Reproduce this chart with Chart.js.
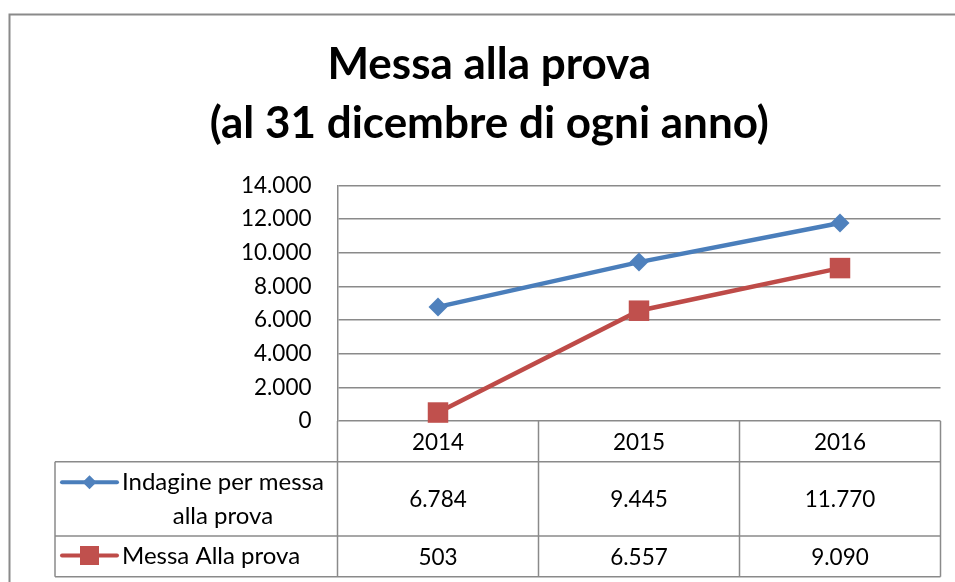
<!DOCTYPE html>
<html>
<head>
<meta charset="utf-8">
<script src="https://cdn.jsdelivr.net/npm/chart.js@4/dist/chart.umd.min.js"></script>
<style>
  html, body { margin: 0; padding: 0; background: #ffffff; }
  canvas { display: block; }
</style>
</head>
<body>
<canvas id="c" width="955" height="582"></canvas>
<script>
// ---- data ----
const categories = ['2014', '2015', '2016'];
const seriesNames = ['Indagine per messa alla prova', 'Messa Alla prova'];
const indagine = [6784, 9445, 11770];
const messa = [503, 6557, 9090];
const titleLines = ['Messa alla prova', '(al 31 dicembre di ogni anno)'];
const yMin = 0, yMax = 14000, yStep = 2000;

// ---- styling ----
const FONT = 'Lato';
const GRID = '#8a8a8a';
const BLUE_LINE = '#4A7EBB', BLUE_PT = '#4F81BD';
const RED_LINE = '#BE4B48', RED_PT = '#C0504D';

function fmt(v) {
  return String(v).replace(/\B(?=(\d{3})+(?!\d))/g, '.');
}

function drawKey(ctx, x1, x2, y, color, ptColor, style) {
  ctx.save();
  ctx.strokeStyle = color;
  ctx.lineWidth = 4;
  ctx.lineCap = 'round';
  ctx.beginPath(); ctx.moveTo(x1, y); ctx.lineTo(x2, y); ctx.stroke();
  ctx.fillStyle = ptColor;
  const cx = (x1 + x2) / 2;
  ctx.beginPath();
  if (style === 'diamond') {
    const r = 7;
    ctx.moveTo(cx - r, y); ctx.lineTo(cx, y - r); ctx.lineTo(cx + r, y); ctx.lineTo(cx, y + r);
    ctx.closePath();
  } else {
    const h = 9.5;
    ctx.rect(cx - h, y - h, 2 * h, 2 * h);
  }
  ctx.fill();
  ctx.restore();
}

const framePlugin = {
  id: 'frameAndTable',
  afterDraw(chart) {
    const ctx = chart.ctx;
    const area = chart.chartArea;
    const xs = chart.scales.x;
    ctx.save();
    // outer chart frame (cropped)
    ctx.strokeStyle = GRID;
    ctx.lineWidth = 2;
    ctx.beginPath();
    ctx.moveTo(9.5, 582); ctx.lineTo(9.5, 14.5); ctx.lineTo(955, 14.5);
    ctx.stroke();

    // data table
    const n = categories.length;
    const colW = (area.right - area.left) / n;
    const top = area.bottom;
    const rowH = [40.7, 74.3, 40.7];
    const y1 = top + rowH[0], y2 = y1 + rowH[1], y3 = y2 + rowH[2];
    const tableLeft = 55;
    ctx.strokeStyle = GRID;
    ctx.lineWidth = 1.5;
    ctx.beginPath();
    for (let i = 0; i <= n; i++) {
      const x = area.left + i * colW;
      ctx.moveTo(x, top); ctx.lineTo(x, y3);
    }
    ctx.moveTo(tableLeft, y1); ctx.lineTo(tableLeft, y3);
    [y1, y2, y3].forEach(y => { ctx.moveTo(tableLeft, y); ctx.lineTo(area.right, y); });
    ctx.stroke();

    ctx.fillStyle = '#000';
    ctx.font = '22.5px ' + FONT;
    ctx.textAlign = 'center';
    ctx.textBaseline = 'middle';
    categories.forEach((c, i) => {
      const x = xs.getPixelForValue(i);
      ctx.fillText(c, x, top + rowH[0] / 2 + 1);
      ctx.fillText(fmt(indagine[i]), x, y1 + rowH[1] / 2 + 1);
      ctx.fillText(fmt(messa[i]), x, y2 + rowH[2] / 2 + 1);
    });

    // legend keys + series names
    drawKey(ctx, 62, 117, y1 + 20.5, BLUE_LINE, BLUE_PT, 'diamond');
    drawKey(ctx, 62, 117, y2 + 19.5, RED_LINE, RED_PT, 'square');
    ctx.font = '24px ' + FONT;
    ctx.textAlign = 'left';
    const line1 = 'Indagine per messa', line2 = 'alla prova';
    ctx.fillText(line1, 122, y1 + 21);
    const w1 = ctx.measureText(line1).width;
    ctx.textAlign = 'center';
    ctx.fillText(line2, 122 + w1 / 2, y1 + 54.5);
    ctx.textAlign = 'left';
    ctx.fillText(seriesNames[1], 122, y2 + 20.5);
    ctx.restore();
  }
};

const ctx = document.getElementById('c').getContext('2d');
new Chart(ctx, {
  type: 'line',
  data: {
    labels: categories,
    datasets: [
      {
        label: seriesNames[0], data: indagine,
        borderColor: BLUE_LINE, backgroundColor: BLUE_PT, borderWidth: 4.5,
        pointStyle: 'rectRot', pointRadius: 9.5, pointBorderWidth: 0,
        pointBackgroundColor: BLUE_PT, pointBorderColor: BLUE_PT,
        tension: 0, clip: false
      },
      {
        label: seriesNames[1], data: messa,
        borderColor: RED_LINE, backgroundColor: RED_PT, borderWidth: 4.5,
        pointStyle: 'rect', pointRadius: 14.5, pointBorderWidth: 0,
        pointBackgroundColor: RED_PT, pointBorderColor: RED_PT,
        tension: 0, clip: false
      }
    ]
  },
  options: {
    responsive: false,
    animation: false,
    devicePixelRatio: 1,
    layout: { padding: { left: 38, right: 14.5, top: 0, bottom: 161 } },
    plugins: {
      legend: { display: false },
      tooltip: { enabled: false },
      title: {
        display: true,
        text: titleLines,
        color: '#000',
        font: { family: FONT, size: 44, weight: 'bold', lineHeight: 1.334 },
        padding: { top: 35.95, bottom: 32.15 }
      }
    },
    scales: {
      x: {
        offset: true,
        grid: { display: false, drawTicks: false },
        border: { display: false },
        ticks: { display: false },
        afterFit(s) { s.height = 0; }
      },
      y: {
        min: yMin, max: yMax,
        ticks: {
          stepSize: yStep, padding: 26, color: '#000',
          font: { family: FONT, size: 22.5 },
          callback: v => fmt(v)
        },
        grid: { color: GRID, lineWidth: 1.5, drawTicks: false },
        border: { display: true, color: GRID, width: 1.5 },
        afterFit(s) { s.width = 299.5; }
      }
    }
  },
  plugins: [framePlugin]
});
</script>
</body>
</html>
